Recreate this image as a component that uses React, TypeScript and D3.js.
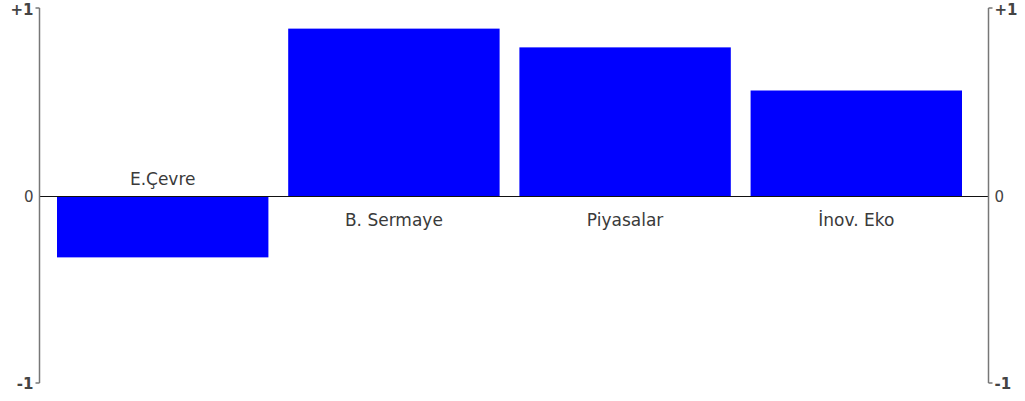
import React, { useEffect, useRef } from "react";
import * as d3 from "d3";

const categories = ["E.Çevre", "B. Sermaye", "Piyasalar", "İnov. Eko"];
const values = [-0.33, 0.89, 0.79, 0.56];
const tickValues = [1, 0, -1];
const tickLabels = ["+1", "0", "-1"];

const W = 1025;
const H = 401;

const App = () => {
  const ref = useRef<SVGSVGElement>(null);

  useEffect(() => {
    const svg = d3.select(ref.current);
    svg.selectAll("*").remove();

    const axisL = 39.5;
    const axisR = 988.5;

    const x = d3
      .scaleBand()
      .domain(categories)
      .range([57, 962])
      .paddingInner(0.0856)
      .paddingOuter(0);

    const y = d3.scaleLinear().domain([-1, 1]).range([383, 8]);
    const y0 = Math.round(y(0)) + 0.5;

    // bars
    svg
      .append("g")
      .selectAll("rect")
      .data(values)
      .enter()
      .append("rect")
      .attr("x", (_, i) => x(categories[i])!)
      .attr("width", x.bandwidth())
      .attr("y", (d) => (d > 0 ? y(d) : y0))
      .attr("height", (d) => Math.abs(y(d) - y0))
      .attr("fill", "#0000ff");

    // zero line
    svg
      .append("line")
      .attr("x1", axisL)
      .attr("x2", axisR)
      .attr("y1", y0)
      .attr("y2", y0)
      .attr("stroke", "#111")
      .attr("stroke-width", 1);

    // vertical axes with small end hooks
    const drawAxis = (ax: number, dir: number) => {
      svg
        .append("line")
        .attr("x1", ax)
        .attr("x2", ax)
        .attr("y1", y(1))
        .attr("y2", y(-1))
        .attr("stroke", "#777")
        .attr("stroke-width", 1.5);
      [1, -1].forEach((v) => {
        svg
          .append("line")
          .attr("x1", ax)
          .attr("x2", ax + dir * 4)
          .attr("y1", y(v))
          .attr("y2", y(v))
          .attr("stroke", "#777")
          .attr("stroke-width", 1.5);
      });
      svg
        .append("g")
        .selectAll("text")
        .data(tickValues)
        .enter()
        .append("text")
        .attr("x", ax + dir * 6)
        .attr("y", (d) => y(d) + (d === 1 ? 2 : d === -1 ? 1 : 1))
        .attr("dy", "0.35em")
        .attr("text-anchor", dir < 0 ? "end" : "start")
        .attr("font-family", "'DejaVu Sans', sans-serif")
        .attr("font-size", 15)
        .attr("font-weight", (d) => (d === 0 ? "normal" : "bold"))
        .attr("fill", "#444")
        .text((_, i) => tickLabels[i]);
    };
    drawAxis(axisL, -1);
    drawAxis(axisR, 1);

    // category labels
    svg
      .append("g")
      .selectAll("text")
      .data(categories)
      .enter()
      .append("text")
      .attr("x", (d) => x(d)! + x.bandwidth() / 2)
      .attr("y", (_, i) => (values[i] < 0 ? y0 - 12 : y0 + 29))
      .attr("text-anchor", "middle")
      .attr("font-family", "'DejaVu Sans', sans-serif")
      .attr("font-size", 17)
      .attr("fill", "#3a3a3a")
      .text((d) => d);
  }, []);

  return (
    <svg
      ref={ref}
      width={W}
      height={H}
      style={{ position: "absolute", left: 0, top: 0, background: "#fff" }}
    ></svg>
  );
};

export default App;
